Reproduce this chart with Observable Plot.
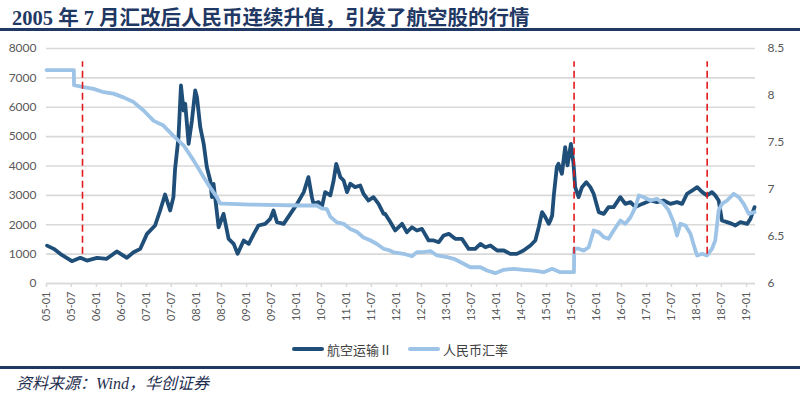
<!DOCTYPE html>
<html>
<head>
<meta charset="utf-8">
<script src="https://cdn.jsdelivr.net/npm/d3@7"></script>
<script src="https://cdn.jsdelivr.net/npm/@observablehq/plot@0.6"></script>
<style>
  html, body { margin: 0; padding: 0; background: #fff; }
  #wrap { position: relative; width: 800px; height: 393px; overflow: hidden; background: #fff; }
  #title { position: absolute; left: 12px; top: 1px; font-family: "Liberation Serif", "Noto Sans CJK SC", serif; font-weight: bold; font-size: 20.5px; color: #1f3864; white-space: nowrap; }
  .rule { position: absolute; left: 0; width: 800px; background: #1f3864; }
  #chart { position: absolute; left: 0; top: 0; }
  #legend { position: absolute; top: 336px; left: 0; width: 800px; text-align: center; font-family: "Noto Sans CJK SC", sans-serif; font-size: 13px; color: #404040; }
  #legend .item { display: inline-flex; align-items: center; margin: 0 8px; }
  #legend .sw { display: inline-block; width: 32px; height: 4px; margin-right: 3px; border-radius: 2px; }
  #source { position: absolute; left: 16px; top: 370px; font-family: "Liberation Serif", "Noto Sans CJK SC", serif; font-style: italic; font-size: 16px; color: #1f2f4f; white-space: nowrap; }
</style>
</head>
<body>
<div id="wrap">
  <div id="title">2005 年 7 月汇改后人民币连续升值，引发了航空股的行情</div>
  <div class="rule" style="top:28px;height:3px;"></div>
  <div id="chart"></div>
  <div id="legend"></div>
  <div class="rule" style="top:366px;height:3px;"></div>
  <div id="source">资料来源：Wind，华创证券</div>
</div>
<script>
// ---- Data ----
const seriesNames = ["航空运输Ⅱ", "人民币汇率"];
const seriesColors = ["#1f4e79", "#9dc3e6"];

const airlineDates = [
  "2005-01-05","2005-02-23","2005-04-11","2005-07-05","2005-09-05","2005-10-23","2006-01-05","2006-03-17","2006-05-29","2006-08-11",
  "2006-09-29","2006-11-17","2007-01-05","2007-03-05","2007-04-11","2007-05-17","2007-06-23","2007-07-17","2007-07-29","2007-08-23",
  "2007-09-10","2007-09-29","2007-10-11","2007-11-05","2007-11-29","2007-12-23","2008-01-05","2008-01-29","2008-02-23","2008-03-17",
  "2008-04-11","2008-04-23","2008-05-05","2008-06-11","2008-07-17","2008-08-23","2008-09-29","2008-10-28","2008-12-11","2009-01-17",
  "2009-02-23","2009-03-29","2009-05-17","2009-06-23","2009-07-17","2009-08-11","2009-09-29","2009-11-17","2010-01-05","2010-02-23",
  "2010-03-29","2010-04-23","2010-05-05","2010-06-11","2010-07-05","2010-07-29","2010-09-05","2010-09-29","2010-10-18","2010-11-17",
  "2010-12-11","2011-01-05","2011-01-29","2011-03-05","2011-04-11","2011-05-05","2011-06-11","2011-07-17","2011-08-23","2011-09-29",
  "2011-10-11","2011-11-17","2011-12-23","2012-02-11","2012-03-17","2012-04-23","2012-05-29","2012-07-05","2012-08-23","2012-09-29",
  "2012-11-05","2012-12-11","2013-01-17","2013-03-05","2013-04-23","2013-06-11","2013-07-29","2013-09-05","2013-10-11","2013-11-17",
  "2014-01-05","2014-02-23","2014-04-11","2014-05-29","2014-07-17","2014-09-05","2014-10-11","2014-11-05","2014-11-29","2014-12-23",
  "2015-01-17","2015-01-29","2015-02-11","2015-02-23","2015-03-17","2015-03-29","2015-04-23","2015-05-17","2015-06-03","2015-06-28",
  "2015-07-17","2015-07-29","2015-08-23","2015-09-17","2015-10-18","2015-11-17","2015-12-11","2016-01-17","2016-02-23","2016-03-29",
  "2016-05-05","2016-06-23","2016-07-29","2016-09-05","2016-10-11","2016-11-29","2017-01-29","2017-03-17","2017-05-05","2017-06-23",
  "2017-08-11","2017-09-17","2017-10-23","2017-11-29","2018-01-05","2018-02-11","2018-03-17","2018-04-23","2018-05-17","2018-06-11",
  "2018-07-05","2018-08-11","2018-09-17","2018-10-11","2018-11-17","2019-01-05","2019-01-29","2019-02-28"
];
const airlineValues = [
  1290,1180,1010,760,875,780,875,840,1090,875,
  1065,1180,1690,1975,2485,3030,2485,2940,3900,4980,
  6740,5890,6120,4755,5550,6570,6340,5320,4755,3960,
  3506,2940,3394,1915,2370,1520,1350,1010,1465,1350,
  1690,1975,2030,2200,2485,2090,2030,2370,2710,3110,
  3620,2940,2710,2770,2600,3110,3000,3506,4075,3620,
  3506,3110,3394,3280,3335,3055,2825,2940,2710,2370,
  2370,2090,1805,2030,1745,1915,1805,1860,1465,1465,
  1405,1635,1690,1520,1520,1180,1180,1350,1235,1293,
  1123,1123,1010,1010,1123,1293,1465,1915,2430,2260,
  2030,2145,2315,3000,3960,4075,3735,4640,4020,4755,
  4075,3280,2940,3280,3450,3280,3055,2430,2370,2600,
  2600,2940,2710,2770,2600,2710,2825,2770,2825,2710,
  2770,2710,3055,3165,3280,3110,3000,3110,3000,2825,
  2145,2090,2030,1975,2090,2030,2200,2600
];

const rmbDates = [
  "2005-01-01","2005-07-20","2005-07-21","2005-09-29","2005-12-11","2006-02-23","2006-05-05","2006-07-17","2006-09-29","2006-12-11",
  "2007-02-23","2007-05-05","2007-07-17","2007-09-29","2007-12-11","2008-02-23","2008-04-11","2008-05-05","2008-05-29","2008-06-23",
  "2008-07-17","2009-01-29","2010-01-29","2010-05-29","2010-07-05","2010-08-11","2010-09-05","2010-10-23","2010-12-11","2011-01-29",
  "2011-03-17","2011-05-05","2011-06-23","2011-08-11","2011-09-29","2011-11-17","2011-12-11","2012-02-23","2012-04-23","2012-05-29",
  "2012-07-17","2012-09-05","2012-10-23","2013-01-05","2013-02-23","2013-05-05","2013-06-23","2013-09-05","2013-10-23","2013-12-23",
  "2014-02-23","2014-05-05","2014-07-17","2014-09-29","2014-12-11","2015-02-11","2015-04-11","2015-05-05","2015-07-20","2015-07-22",
  "2015-08-23","2015-09-29","2015-11-05","2015-12-11","2016-01-17","2016-02-23","2016-03-29","2016-05-05","2016-06-23","2016-07-29",
  "2016-09-05","2016-10-11","2016-11-05","2016-12-11","2017-01-29","2017-03-17","2017-05-05","2017-06-11","2017-07-17","2017-08-11",
  "2017-09-05","2017-10-11","2017-11-17","2017-12-23","2018-01-05","2018-02-11","2018-03-17","2018-04-23","2018-05-17","2018-06-11",
  "2018-07-05","2018-08-11","2018-09-29","2018-11-05","2018-12-11","2019-01-17","2019-02-28"
];
const rmbValues = [
  8.27,8.27,8.11,8.09,8.07,8.035,8.02,7.98,7.93,7.84,
  7.73,7.68,7.57,7.47,7.31,7.13,7.02,6.97,6.92,6.85,
  6.85,6.84,6.83,6.83,6.80,6.79,6.71,6.65,6.635,6.58,
  6.55,6.49,6.46,6.42,6.37,6.35,6.33,6.316,6.29,6.333,
  6.333,6.344,6.298,6.28,6.263,6.21,6.173,6.173,6.138,6.11,
  6.146,6.156,6.146,6.138,6.12,6.156,6.12,6.12,6.12,6.37,
  6.37,6.35,6.386,6.564,6.546,6.493,6.476,6.564,6.67,6.635,
  6.705,6.812,6.936,6.918,6.883,6.901,6.848,6.777,6.652,6.51,
  6.635,6.617,6.529,6.351,6.298,6.316,6.298,6.369,6.457,6.777,
  6.848,6.883,6.954,6.918,6.848,6.741,6.759
];

const eventDates = ["2005-09-21", "2015-07-21", "2018-03-19"];

const leftTicks = [0,1000,2000,3000,4000,5000,6000,7000,8000];
const rightTicks = [6, 6.5, 7, 7.5, 8, 8.5];
const xTickLabels = ["05-01","05-07","06-01","06-07","07-01","07-07","08-01","08-07","09-01","09-07",
  "10-01","10-07","11-01","11-07","12-01","12-07","13-01","13-07","14-01","14-07",
  "15-01","15-07","16-01","16-07","17-01","17-07","18-01","18-07","19-01"];

// ---- Build tables ----
const parse = s => new Date(s + "T00:00:00Z");
const airline = airlineDates.map((d, i) => ({date: parse(d), value: airlineValues[i]}));
// right axis (6 – 8.5) mapped onto left axis range (0 – 8000)
const rMin = 6, rMax = 8.5, lMax = 8000;
const toLeft = r => (r - rMin) / (rMax - rMin) * lMax;
const rmb = rmbDates.map((d, i) => ({date: parse(d), value: toLeft(rmbValues[i])}));
const xTicks = xTickLabels.map(s => parse("20" + s + "-01"));
const events = eventDates.map(parse);

const tickFont = "Lato, 'Open Sans', sans-serif";

const chart = Plot.plot({
  width: 800,
  height: 330,
  marginTop: 48,
  marginBottom: 47,
  marginLeft: 46,
  marginRight: 45,
  style: {fontFamily: tickFont, fontSize: "12px", color: "#595959", background: "transparent"},
  x: {type: "utc", domain: [parse("2005-01-01"), parse("2019-03-07")]},
  y: {domain: [0, lMax]},
  marks: [
    Plot.gridY(leftTicks, {stroke: "#d9d9d9", strokeOpacity: 1, strokeWidth: 1.6}),
    Plot.axisY(leftTicks, {anchor: "left", tickSize: 0, tickPadding: 10, label: null, fontSize: 12, tickFormat: d3.format("d")}),
    Plot.axisY(rightTicks.map(toLeft), {anchor: "right", tickSize: 0, tickPadding: 12, label: null, fontSize: 12,
      tickFormat: d => String(+(rMin + d / lMax * (rMax - rMin)).toFixed(1))}),
    Plot.axisX(xTicks, {tickSize: 4, stroke: "#d9d9d9", strokeWidth: 1.5, tickRotate: -90, tickPadding: 4, label: null, fontSize: 11,
      tickFormat: d3.utcFormat("%y-%m")}),
    Plot.ruleY([0], {stroke: "#d9d9d9", strokeWidth: 1.6}),
    Plot.line(airline, {x: "date", y: "value", stroke: seriesColors[0], strokeWidth: 3.8, strokeLinejoin: "round"}),
    Plot.line(rmb, {x: "date", y: "value", stroke: seriesColors[1], strokeWidth: 3.8, strokeLinejoin: "round"}),
    Plot.ruleX(events, {y1: 1000, y2: 7550, stroke: "#e31a1c", strokeWidth: 1.6, strokeDasharray: "7,4"})
  ]
});
document.getElementById("chart").appendChild(chart);

// legend
const legend = document.getElementById("legend");
seriesNames.forEach((n, i) => {
  const item = document.createElement("span");
  item.className = "item";
  const sw = document.createElement("span");
  sw.className = "sw";
  sw.style.background = seriesColors[i];
  item.appendChild(sw);
  item.appendChild(document.createTextNode(n));
  legend.appendChild(item);
});
</script>
</body>
</html>
